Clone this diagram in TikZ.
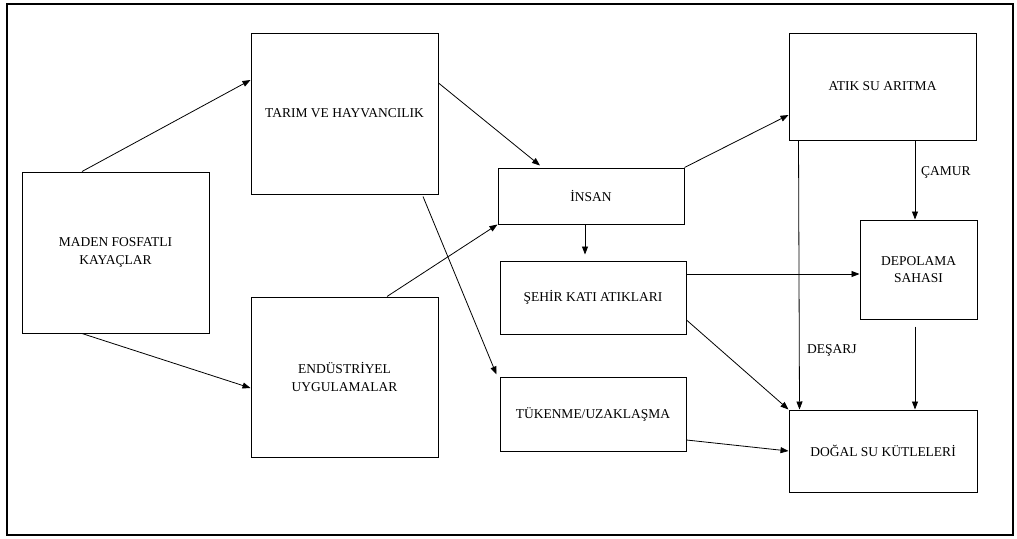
\documentclass[tikz,border=0pt]{standalone}
\usepackage{fontspec}
\setmainfont{Liberation Serif}
\usepackage{tikz}
\usetikzlibrary{arrows.meta,calc}

\begin{document}
\begin{tikzpicture}[x=1pt,y=-1pt,
  kutu/.style={draw,line width=1pt,inner sep=0pt,align=center,font=\fontsize{13.5}{17.5}\selectfont},
  ok/.style={-{Triangle[length=8pt,width=6pt]},line width=0.8pt},
  etiket/.style={anchor=west,inner sep=0pt,font=\fontsize{13.5}{17.5}\selectfont}]
\useasboundingbox (0,0) rectangle (1017,538);
\draw[line width=2pt] (7,4) rectangle (1013,535);
\node (1) at (115.5,252.5) [kutu,minimum width=187pt,minimum height=161pt] {MADEN FOSFATLI\\KAYAÇLAR};
\node (2) at (344.5,113.5) [kutu,minimum width=187pt,minimum height=161pt] {TARIM VE HAYVANCILIK};
\node (3) at (344.5,377)   [kutu,minimum width=187pt,minimum height=160pt] {ENDÜSTRİYEL\\UYGULAMALAR};
\node (4) at (591,196)     [kutu,minimum width=186pt,minimum height=56pt] {İNSAN};
\node (5) at (593,297.5)   [kutu,minimum width=186pt,minimum height=73pt] {ŞEHİR KATI ATIKLARI};
\node (6) at (593,414)     [kutu,minimum width=186pt,minimum height=74pt] {TÜKENME/UZAKLAŞMA};
\node (7) at (882.5,86.5)  [kutu,minimum width=187pt,minimum height=107pt] {ATIK SU ARITMA};
\node (8) at (918.5,269.5) [kutu,minimum width=117pt,minimum height=99pt] {DEPOLAMA\\SAHASI};
\node (9) at (883,451)     [kutu,minimum width=188pt,minimum height=82pt] {DOĞAL SU KÜTLELERİ};
\draw[ok] ($(1.north)+(-33.5,0)$) -- ($(2.west)+(0,-33.5)$);
\draw[ok] ($(1.south)+(-33.5,0)$) -- ($(3.west)+(0,11)$);
\draw[ok] ($(2.east)+(0,-30.5)$) -- ($(4.north)+(-51,-2)$);
\draw[ok] ($(2.south)+(78.5,2)$) -- ($(6.north west)+(-3,-2)$);
\draw[ok] ($(3.north)+(42.5,0)$) -- (4.south west);
\draw[ok] (4.north east) -- ($(7.west)+(0,28.5)$);
\draw[ok] ($(4.south)+(-6,0)$) -- ($(5.north)+(-8,-6)$);
\draw[ok] ($(5.east)+(0,-23.5)$) -- ($(8.west)+(0,4.5)$);
\draw[ok] ($(7.south west)+(10,0)$) -- ($(9.north west)+(11,0)$);
\draw[ok] ($(7.south)+(32.5,0)$) -- ($(8.north)+(-3.5,0)$);
\draw[ok] ($(5.east)+(0,22.5)$) -- (9.north west);
\draw[ok] ($(6.east)+(0,26)$) -- (9.west);
\draw[ok] ($(8.south)+(-3.5,7)$) -- ($(9.north)+(32,0)$);
\node (d) at (807,350) [etiket] {DEŞARJ};
\node (c) at (921,172) [etiket] {ÇAMUR};
\end{tikzpicture}
\end{document}
